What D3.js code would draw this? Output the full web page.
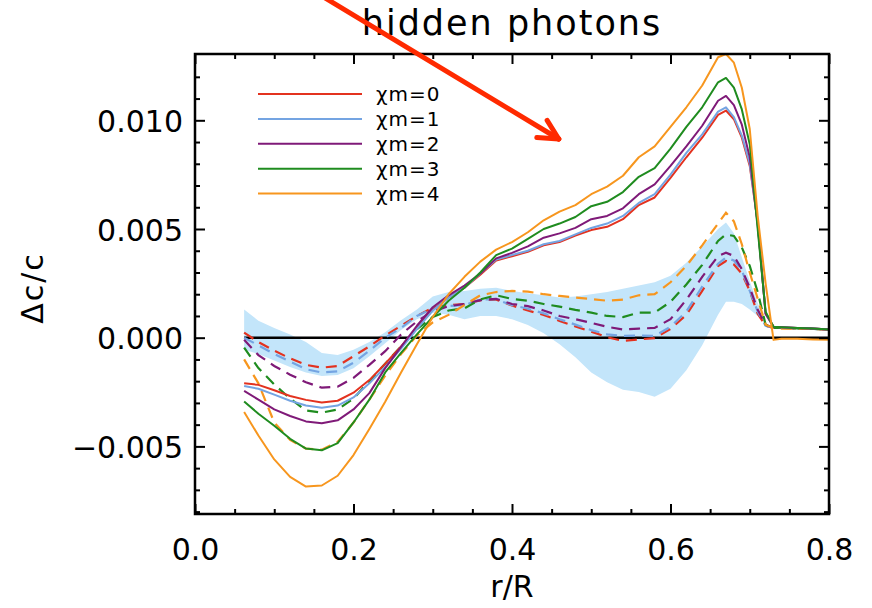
<!DOCTYPE html>
<html>
<head>
<meta charset="utf-8">
<script src="https://cdn.jsdelivr.net/npm/d3@7"></script>
<style>
  body { margin: 0; background: #fff; }
  svg { display: block; font-family: "DejaVu Sans", sans-serif; }
</style>
</head>
<body>
<div id="chart"></div>
<script>
// r/R grid the curves were read on
var radius = [0.062, 0.08, 0.10, 0.12, 0.14, 0.16, 0.18, 0.20, 0.22, 0.24,
              0.26, 0.28, 0.30, 0.32, 0.34, 0.36, 0.38, 0.40, 0.42, 0.44,
              0.46, 0.48, 0.50, 0.52, 0.54, 0.56, 0.58, 0.60, 0.62, 0.64,
              0.66, 0.67, 0.68, 0.69, 0.70, 0.71, 0.72, 0.73, 0.74, 0.76, 0.78, 0.80];

// dc/c, in units of 1e-3 -- solid lines
var solidM0 = [-2.10,-2.17,-2.42,-2.68,-2.86,-2.98,-2.90,-2.53,-1.95,-1.20,
               -0.40,0.45,1.30,1.85,2.30,2.90,3.55,3.75,3.95,4.25,
               4.40,4.70,4.95,5.10,5.45,6.10,6.45,7.35,8.30,9.20,
               10.25,10.45,10.05,9.20,7.90,5.30,1.10,0.50,0.48,0.45,0.42,0.38];
var solidM1 = [-2.22,-2.35,-2.62,-2.90,-3.12,-3.22,-3.12,-2.75,-2.10,-1.35,
               -0.50,0.40,1.25,1.85,2.30,2.95,3.60,3.80,4.00,4.30,
               4.45,4.75,5.05,5.25,5.60,6.20,6.60,7.50,8.50,9.35,
               10.40,10.60,10.15,9.30,8.00,5.30,1.10,0.50,0.48,0.45,0.42,0.38];
var solidM2 = [-2.45,-2.85,-3.30,-3.60,-3.85,-3.94,-3.80,-3.30,-2.55,-1.40,
               -0.42,0.55,1.40,1.95,2.40,2.95,3.65,3.90,4.20,4.60,
               4.80,5.05,5.45,5.60,5.95,6.60,7.05,7.90,8.80,9.75,
               10.90,11.12,10.70,9.80,8.30,5.20,1.10,0.50,0.48,0.45,0.42,0.38];
var solidM3 = [-2.93,-3.50,-4.05,-4.65,-5.10,-5.18,-4.85,-3.90,-2.85,-1.60,
               -0.70,0.15,0.95,1.70,2.30,3.00,3.80,4.10,4.55,5.00,
               5.25,5.55,6.05,6.25,6.70,7.40,7.80,8.70,9.70,10.60,
               11.75,11.95,11.50,10.50,8.90,5.00,1.20,0.50,0.48,0.45,0.42,0.38];
var solidM4 = [-3.42,-4.50,-5.60,-6.40,-6.85,-6.80,-6.35,-5.40,-4.20,-2.95,
               -1.60,-0.30,0.95,2.00,2.80,3.50,4.05,4.40,4.85,5.40,
               5.80,6.10,6.60,6.95,7.45,8.30,8.80,9.70,10.60,11.60,
               12.90,13.05,12.65,11.50,9.60,5.60,2.50,-0.10,-0.05,-0.05,-0.08,-0.10];

// dashed lines
var dashM0 = [0.23,-0.20,-0.60,-0.95,-1.25,-1.38,-1.30,-0.85,-0.40,0.10,
              0.55,1.00,1.38,1.50,1.55,1.72,1.75,1.48,1.25,1.05,
              0.77,0.52,0.28,0.02,-0.15,-0.08,-0.02,0.40,1.05,2.15,
              3.30,3.53,3.37,2.95,2.15,1.10,0.55,0.45,0.45,0.43,0.40,0.38];
var dashM1 = [0.00,-0.35,-0.75,-1.10,-1.45,-1.60,-1.55,-1.15,-0.60,0.00,
              0.45,1.00,1.35,1.46,1.50,1.76,1.76,1.50,1.33,1.12,
              0.85,0.60,0.35,0.15,0.08,0.10,0.08,0.50,1.20,2.35,
              3.40,3.68,3.55,3.10,2.15,1.20,0.55,0.45,0.45,0.43,0.40,0.38];
var dashM2 = [-0.10,-0.80,-1.30,-1.70,-2.05,-2.30,-2.25,-1.85,-1.25,-0.62,
              0.15,0.75,1.20,1.45,1.55,1.73,1.79,1.55,1.45,1.25,
              1.00,0.85,0.68,0.50,0.38,0.42,0.45,0.85,1.75,2.80,
              3.75,3.91,3.76,3.15,2.30,1.30,0.60,0.45,0.45,0.43,0.40,0.38];
var dashM3 = [-0.46,-1.40,-2.15,-2.80,-3.35,-3.45,-3.30,-2.80,-2.00,-1.20,
              -0.40,0.40,0.95,1.25,1.35,1.76,1.95,1.78,1.70,1.55,
              1.43,1.28,1.15,1.00,0.95,1.15,1.15,1.65,2.45,3.35,
              4.45,4.75,4.68,4.15,3.30,2.10,0.60,0.45,0.45,0.43,0.40,0.38];
var dashM4 = [-1.00,-2.10,-3.90,-4.70,-5.10,-5.15,-4.80,-3.90,-2.85,-1.75,
              -0.75,0.10,0.70,1.05,1.50,1.95,2.10,2.15,2.12,2.00,
              1.92,1.85,1.78,1.70,1.75,1.95,2.00,2.55,3.30,4.25,
              5.25,5.75,5.35,4.30,3.00,1.80,0.60,0.45,0.42,0.42,0.40,0.38];

// shaded band (first 37 radius points)
var bandHi = [1.30,0.78,0.45,0.15,-0.20,-0.70,-0.80,-0.55,-0.20,0.25,
              0.80,1.30,1.90,2.10,2.15,2.25,2.30,2.15,2.05,1.95,
              1.85,1.90,2.00,2.10,2.25,2.40,2.55,2.85,3.45,4.20,
              5.00,5.30,4.80,3.70,2.60,1.60,0.70];
var bandLo = [-0.55,-0.75,-1.05,-1.35,-1.60,-1.76,-1.72,-1.40,-0.85,-0.25,
              0.35,0.85,1.15,1.05,0.85,1.00,1.00,0.85,0.58,0.20,
              -0.30,-0.90,-1.60,-2.05,-2.40,-2.50,-2.72,-2.35,-1.50,-0.35,
              1.05,1.65,1.65,1.55,1.30,1.00,0.65];

var legendLabels = ["χm=0", "χm=1", "χm=2", "χm=3", "χm=4"];
var seriesColors = ["#e3321f", "#74a4e2", "#7f1a78", "#1f8c1f", "#f7961e"];

var xMajorTicks = [0, 0.2, 0.4, 0.6, 0.8];
var xMinorTicks = [0.05, 0.1, 0.15, 0.25, 0.3, 0.35, 0.45, 0.5, 0.55, 0.65, 0.7, 0.75];
var yMajorTicks = [-0.005, 0, 0.005, 0.010];
var yMinorTicks = [-0.008, -0.007, -0.006, -0.004, -0.003, -0.002, -0.001,
                   0.001, 0.002, 0.003, 0.004, 0.006, 0.007, 0.008, 0.009, 0.011, 0.012];

// arrow annotation, in data units (start off the top, tip)
var arrowFrom = [0.164, 0.01563];
var arrowTip = [0.459, 0.00914];

var width = 872, height = 608;

var svg = d3.select("#chart")
  .append("svg")
  .attr("width", width)
  .attr("height", height);

var x = d3.scaleLinear().domain([0, 0.8]).range([195, 829]);
var y = d3.scaleLinear().domain([-0.00811, 0.01305]).range([514, 54]);

var toPoints = function(vals) {
  return vals.map(function(v, i) { return {r: radius[i], v: v * 1e-3}; });
};

var solidSeries = [solidM0, solidM1, solidM2, solidM3, solidM4].map(toPoints);
var dashSeries = [dashM0, dashM1, dashM2, dashM3, dashM4].map(toPoints);
var bandData = bandHi.map(function(h, i) { return {r: radius[i], hi: h * 1e-3, lo: bandLo[i] * 1e-3}; });

// band
var area = d3.area()
  .x(function(d) { return x(d.r); })
  .y0(function(d) { return y(d.lo); })
  .y1(function(d) { return y(d.hi); });

svg.append("path")
  .attr("d", area(bandData))
  .attr("fill", "#c3e5fa");

// zero line
svg.append("line")
  .attr("x1", x(radius[0])).attr("x2", x(0.8))
  .attr("y1", y(0)).attr("y2", y(0))
  .attr("stroke", "black")
  .attr("stroke-width", 2.4);

var line = d3.line()
  .x(function(d) { return x(d.r); })
  .y(function(d) { return y(d.v); });

svg.selectAll("dashLines")
  .data(dashSeries)
  .enter()
  .append("path")
    .attr("d", line)
    .attr("fill", "none")
    .attr("stroke", function(d, i) { return seriesColors[i]; })
    .attr("stroke-width", 2.2)
    .attr("stroke-dasharray", "11,7");

svg.selectAll("solidLines")
  .data(solidSeries)
  .enter()
  .append("path")
    .attr("d", line)
    .attr("fill", "none")
    .attr("stroke", function(d, i) { return seriesColors[i]; })
    .attr("stroke-width", 2)
    .attr("stroke-linejoin", "round");

// frame + ticks (IDL style, ticks pointing inwards on all four sides)
svg.append("rect")
  .attr("x", x.range()[0]).attr("y", y.range()[1])
  .attr("width", x.range()[1] - x.range()[0])
  .attr("height", y.range()[0] - y.range()[1])
  .attr("fill", "none")
  .attr("stroke", "black")
  .attr("stroke-width", 2.5);

var noDomain = function(g) {
  g.select(".domain").remove();
  g.selectAll(".tick line").attr("stroke-width", 2);
};

var xBottom = svg.append("g")
  .attr("transform", "translate(0," + y.range()[0] + ")")
  .call(d3.axisBottom(x).tickValues(xMajorTicks).tickSizeInner(-10).tickSizeOuter(0)
        .tickFormat(d3.format(".1f")))
  .call(noDomain);
xBottom.selectAll("text")
  .attr("y", 46).attr("dy", null)
  .style("font-size", "30px")
  .style("font-family", "DejaVu Sans, sans-serif");

svg.append("g")
  .attr("transform", "translate(0," + y.range()[0] + ")")
  .call(d3.axisBottom(x).tickValues(xMinorTicks).tickSize(-5).tickFormat(""))
  .call(noDomain);
svg.append("g")
  .attr("transform", "translate(0," + y.range()[1] + ")")
  .call(d3.axisTop(x).tickValues(xMajorTicks).tickSize(-10).tickFormat(""))
  .call(noDomain);
svg.append("g")
  .attr("transform", "translate(0," + y.range()[1] + ")")
  .call(d3.axisTop(x).tickValues(xMinorTicks).tickSize(-5).tickFormat(""))
  .call(noDomain);

var yLeft = svg.append("g")
  .attr("transform", "translate(" + x.range()[0] + ",0)")
  .call(d3.axisLeft(y).tickValues(yMajorTicks).tickSizeInner(-10).tickSizeOuter(0)
        .tickPadding(12).tickFormat(d3.format(".3f")))
  .call(noDomain);
yLeft.selectAll("text")
  .attr("dy", "0.37em")
  .style("font-size", "30px")
  .style("font-family", "DejaVu Sans, sans-serif");

svg.append("g")
  .attr("transform", "translate(" + x.range()[0] + ",0)")
  .call(d3.axisLeft(y).tickValues(yMinorTicks).tickSize(-5).tickFormat(""))
  .call(noDomain);
svg.append("g")
  .attr("transform", "translate(" + x.range()[1] + ",0)")
  .call(d3.axisRight(y).tickValues(yMajorTicks).tickSize(-10).tickFormat(""))
  .call(noDomain);
svg.append("g")
  .attr("transform", "translate(" + x.range()[1] + ",0)")
  .call(d3.axisRight(y).tickValues(yMinorTicks).tickSize(-5).tickFormat(""))
  .call(noDomain);

// titles
svg.append("text")
  .attr("x", 512).attr("y", 35)
  .attr("text-anchor", "middle")
  .style("font-size", "35px")
  .style("letter-spacing", "2px")
  .text("hidden photons");

svg.append("text")
  .attr("x", 512).attr("y", 597)
  .attr("text-anchor", "middle")
  .style("font-size", "30px")
  .text("r/R");

svg.append("text")
  .attr("transform", "translate(43,288) rotate(-90)")
  .attr("text-anchor", "middle")
  .style("font-size", "30px")
  .style("letter-spacing", "2px")
  .text("Δc/c");

// legend
var legend = svg.selectAll("legendRows")
  .data(legendLabels)
  .enter()
  .append("g")
    .attr("transform", function(d, i) { return "translate(258," + (94 + i * 24.9) + ")"; });

legend.append("line")
  .attr("x1", 0).attr("x2", 104)
  .attr("stroke", function(d, i) { return seriesColors[i]; })
  .attr("stroke-width", 2);

legend.append("text")
  .attr("x", 118).attr("y", 7)
  .style("font-size", "20px")
  .style("letter-spacing", "1px")
  .text(function(d) { return d; });

// red arrow
var ax0 = x(arrowFrom[0]), ay0 = y(arrowFrom[1]);
var ax1 = x(arrowTip[0]), ay1 = y(arrowTip[1]);
var ang = Math.atan2(ay1 - ay0, ax1 - ax0);
var headLen = 22, headAng = 27 * Math.PI / 180;

var arrow = svg.append("g")
  .attr("stroke", "#ff2a00")
  .attr("stroke-width", 5)
  .attr("stroke-linecap", "round")
  .attr("fill", "none");

arrow.append("line")
  .attr("x1", ax0).attr("y1", ay0)
  .attr("x2", ax1).attr("y2", ay1);

[-1, 1].forEach(function(s) {
  var a = ang + Math.PI + s * headAng;
  arrow.append("line")
    .attr("x1", ax1).attr("y1", ay1)
    .attr("x2", ax1 + headLen * Math.cos(a))
    .attr("y2", ay1 + headLen * Math.sin(a));
});
</script>
</body>
</html>
